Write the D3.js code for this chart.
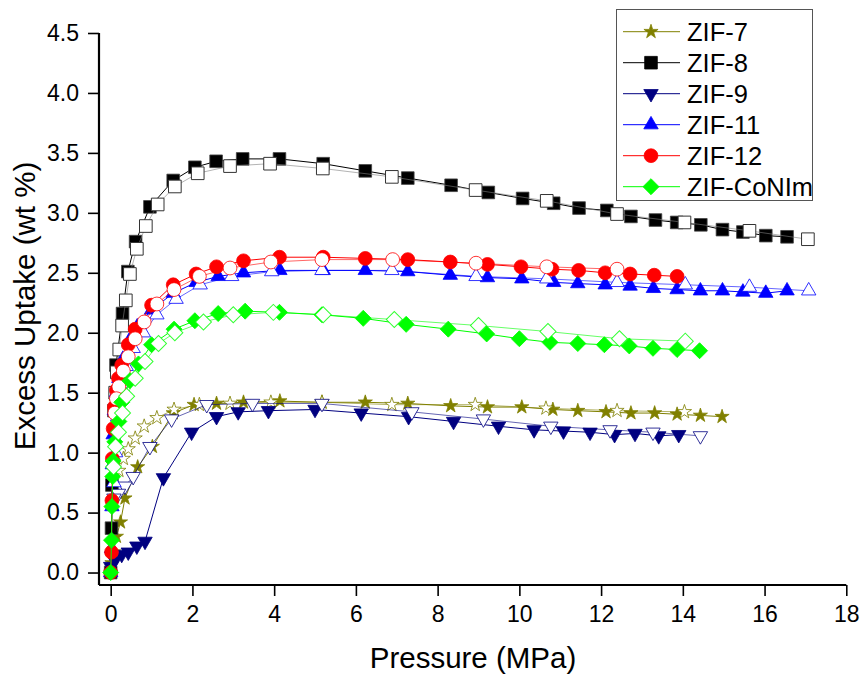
<!DOCTYPE html>
<html><head><meta charset="utf-8">
<script src="https://cdn.jsdelivr.net/npm/d3@7"></script>
<style>body{margin:0;background:#fff}svg{display:block}text{font-family:"Liberation Sans",Arial,sans-serif}</style>
</head><body><svg id="c" width="861" height="674"></svg>
<script>
// ---------- data ----------
const seriesNames = ["ZIF-7","ZIF-8","ZIF-9","ZIF-11","ZIF-12","ZIF-CoNIm"];
const seriesColors = ["#808000","#000000","#000080","#0000FF","#FF0000","#00FF00"];
const xTicks = [0,2,4,6,8,10,12,14,16,18];
const yTicks = [0,0.5,1,1.5,2,2.5,3,3.5,4,4.5];

const zif7Ads = [[0,0.0],[0.03,0.08],[0.07,0.17],[0.14,0.30],[0.24,0.42],[0.35,0.62],[0.66,0.88],[1.02,1.05],[1.53,1.33],[2.04,1.40],[2.59,1.41],[3.25,1.42],[4.14,1.43],[5.17,1.42],[6.23,1.42],[7.27,1.41],[8.32,1.39],[9.22,1.38],[10.06,1.38],[10.82,1.36],[11.43,1.35],[12.12,1.34],[12.73,1.33],[13.31,1.33],[13.86,1.32],[14.43,1.31],[14.96,1.30]];
const zif7Des = [[14.04,1.34],[12.39,1.35],[10.65,1.37],[8.92,1.40],[6.88,1.40],[5.17,1.42],[3.92,1.42],[2.92,1.41],[2.17,1.40],[1.55,1.36],[1.13,1.29],[0.82,1.22],[0.6,1.12],[0.43,1.03],[0.31,0.95],[0.2,0.85]];

const zif8Ads = [[0,0.0],[0.02,0.37],[0.03,0.73],[0.08,1.35],[0.13,1.73],[0.29,2.16],[0.42,2.51],[0.61,2.76],[0.96,3.05],[1.53,3.27],[2.06,3.38],[2.58,3.43],[3.23,3.45],[4.13,3.45],[5.2,3.41],[6.23,3.35],[7.27,3.29],[8.33,3.23],[9.24,3.17],[10.08,3.12],[10.84,3.08],[11.46,3.04],[12.14,3.02],[12.73,2.97],[13.33,2.94],[13.85,2.92],[14.44,2.90],[14.97,2.86],[15.47,2.84],[16.03,2.81],[16.55,2.80]];
const zif8Des = [[17.06,2.78],[15.63,2.85],[14.04,2.92],[12.39,2.99],[10.67,3.10],[8.93,3.19],[6.88,3.30],[5.19,3.37],[3.90,3.41],[2.92,3.39],[2.13,3.33],[1.57,3.22],[1.15,3.07],[0.86,2.89],[0.64,2.70],[0.47,2.49],[0.37,2.27],[0.28,2.06],[0.21,1.86],[0.15,1.67],[0.11,1.50]];

const zif9Ads = [[0,0.05],[0.1,0.10],[0.27,0.15],[0.43,0.17],[0.64,0.22],[0.84,0.26],[1.29,0.79],[1.98,1.17],[2.59,1.30],[3.12,1.34],[3.86,1.35],[5.0,1.36],[6.13,1.33],[7.29,1.30],[8.39,1.26],[9.49,1.22],[10.36,1.19],[11.08,1.18],[11.73,1.17],[12.33,1.15],[12.83,1.16],[13.41,1.14],[13.9,1.15]];
const zif9Des = [[14.43,1.14],[13.27,1.17],[12.22,1.19],[10.77,1.22],[9.12,1.28],[7.37,1.34],[5.17,1.41],[3.47,1.41],[2.35,1.40],[1.49,1.28],[0.96,1.05],[0.55,0.80],[0.35,0.72],[0.19,0.66],[0.08,0.62]];

const zif11Ads = [[0,0.0],[0.02,0.2],[0.03,0.55],[0.04,0.9],[0.06,1.15],[0.09,1.35],[0.14,1.5],[0.2,1.62],[0.3,1.78],[0.45,1.93],[0.65,2.05],[1.0,2.19],[1.53,2.33],[2.09,2.42],[2.63,2.47],[3.25,2.50],[4.14,2.52],[5.2,2.52],[6.23,2.52],[7.27,2.51],[8.31,2.48],[9.22,2.46],[10.06,2.45],[10.84,2.42],[11.43,2.41],[12.10,2.40],[12.71,2.39],[13.28,2.37],[13.86,2.36],[14.43,2.35],[14.97,2.35],[15.47,2.34],[16.03,2.33],[16.55,2.35]];
const zif11Des = [[17.08,2.35],[15.63,2.38],[14.06,2.40],[12.39,2.42],[10.67,2.45],[8.94,2.47],[6.88,2.52],[5.17,2.52],[3.94,2.51],[2.96,2.47],[2.19,2.40],[1.6,2.28],[1.13,2.15],[0.8,2.0],[0.55,1.87],[0.38,1.72],[0.25,1.55],[0.17,1.3],[0.12,1.0],[0.08,0.75]];

const zif12Ads = [[0,0.0],[0.02,0.17],[0.03,0.6],[0.04,0.95],[0.06,1.2],[0.09,1.38],[0.14,1.52],[0.19,1.62],[0.27,1.73],[0.43,1.90],[0.6,2.03],[1.0,2.23],[1.53,2.40],[2.09,2.49],[2.59,2.55],[3.25,2.60],[4.13,2.63],[5.2,2.63],[6.23,2.62],[7.27,2.61],[8.31,2.59],[9.22,2.57],[10.04,2.55],[10.80,2.53],[11.45,2.52],[12.10,2.50],[12.71,2.49],[13.30,2.48],[13.86,2.47]];
const zif12Des = [[12.39,2.53],[10.67,2.55],[8.94,2.58],[6.90,2.61],[5.17,2.61],[3.92,2.59],[2.92,2.54],[2.17,2.47],[1.55,2.36],[1.13,2.24],[0.82,2.09],[0.6,1.95],[0.43,1.80],[0.31,1.68],[0.2,1.55],[0.14,1.45],[0.1,1.33]];

const coNImAds = [[0,0.0],[0.02,0.27],[0.03,0.55],[0.05,0.80],[0.06,0.93],[0.1,1.09],[0.2,1.26],[0.27,1.42],[0.47,1.60],[0.68,1.74],[1.0,1.90],[1.55,2.03],[2.06,2.10],[2.63,2.16],[3.29,2.18],[4.13,2.17],[5.17,2.15],[6.18,2.12],[7.23,2.07],[8.26,2.03],[9.2,1.99],[10.0,1.95],[10.75,1.92],[11.43,1.91],[12.08,1.90],[12.69,1.89],[13.27,1.87],[13.86,1.86],[14.41,1.85]];
const coNImDes = [[14.06,1.93],[12.45,1.95],[10.7,2.01],[9.0,2.06],[6.94,2.11],[5.2,2.15],[3.98,2.17],[3.0,2.15],[2.27,2.09],[1.57,2.0],[1.17,1.91],[0.84,1.76],[0.6,1.62],[0.39,1.47],[0.29,1.33],[0.19,1.17],[0.12,1.05],[0.07,0.88]];

const adsData = [zif7Ads, zif8Ads, zif9Ads, zif11Ads, zif12Ads, coNImAds];
const desData = [zif7Des, zif8Des, zif9Des, zif11Des, zif12Des, coNImDes];

// ---------- drawing ----------
const svg = d3.select("#c");
const x = d3.scaleLinear().domain([-0.286, 18]).range([99, 846.3]);
const y = d3.scaleLinear().domain([-0.104, 4.5]).range([585, 33]);

const symbolDefs = [
  {type: d3.symbolStar, size: 62, rot: 0},
  {type: d3.symbolSquare, size: 160, rot: 0},
  {type: d3.symbolTriangle, size: 90, rot: 180},
  {type: d3.symbolTriangle, size: 90, rot: 0},
  {type: d3.symbolCircle, size: 150, rot: 0},
  {type: d3.symbolSquare, size: 128, rot: 45}
];
const desLineColors = ["#808000","#808080","#000080","#0000FF","#FF0000","#00FF00"];

const line = d3.line().x(d => x(d[0])).y(d => y(d[1]));
const plot = svg.append("g");

seriesNames.forEach((name, i) => {
  const col = seriesColors[i];
  const sd = symbolDefs[i];
  const sym = d3.symbol().type(sd.type).size(sd.size);
  // adsorption
  plot.append("path").datum(adsData[i]).attr("d", line)
    .attr("fill", "none").attr("stroke", col).attr("stroke-width", 1);
  plot.append("g").selectAll("path").data(adsData[i]).join("path")
    .attr("d", sym)
    .attr("transform", d => `translate(${x(d[0])},${y(d[1])}) rotate(${sd.rot})`)
    .attr("fill", col).attr("stroke", i === 1 ? "#444" : col).attr("stroke-width", 0.8);
  // desorption
  plot.append("path").datum(desData[i]).attr("d", line)
    .attr("fill", "none").attr("stroke", desLineColors[i]).attr("stroke-opacity", 0.6).attr("stroke-width", 1);
  plot.append("g").selectAll("path").data(desData[i]).join("path")
    .attr("d", sym)
    .attr("transform", d => `translate(${x(d[0])},${y(d[1])}) rotate(${sd.rot})`)
    .attr("fill", "#fff").attr("stroke", i === 1 ? "#333" : col).attr("stroke-opacity", i === 1 ? 1 : 0.8).attr("stroke-width", 1);
});

// axes
const xMinor = d3.range(1, 18, 2);
const yMinor = d3.range(0.25, 4.5, 0.5);
const fmtY = d3.format(".1f");

const gx = svg.append("g").attr("transform", "translate(0,585)");
gx.call(d3.axisBottom(x).tickValues(xMinor).tickSize(5).tickSizeOuter(0).tickFormat(""));
gx.call(d3.axisBottom(x).tickValues(xTicks).tickSize(11).tickSizeOuter(0).tickPadding(10));
gx.selectAll("path.domain").attr("d", `M${x(-0.286)},0H${x(18)}`).attr("stroke-width", 2.2);
gx.selectAll("line").attr("stroke-width", 1.6);
gx.selectAll("text").attr("font-size", 23).attr("fill", "#000").attr("font-family", "Liberation Sans, Arial, sans-serif");

const gy = svg.append("g").attr("transform", "translate(99,0)");
gy.call(d3.axisLeft(y).tickValues(yMinor).tickSize(5).tickSizeOuter(0).tickFormat(""));
gy.call(d3.axisLeft(y).tickValues(yTicks).tickSize(11).tickSizeOuter(0).tickPadding(9).tickFormat(fmtY));
gy.selectAll("path.domain").attr("d", `M0,${y(-0.104)}V${y(4.5)}`).attr("stroke-width", 2.2);
gy.selectAll("line").attr("stroke-width", 1.6);
gy.selectAll("text").attr("font-size", 23).attr("fill", "#000").attr("font-family", "Liberation Sans, Arial, sans-serif");

// titles
svg.append("text").attr("x", 473).attr("y", 668).attr("text-anchor", "middle")
  .attr("font-size", 29.5).text("Pressure (MPa)");
svg.append("text").attr("transform", "translate(35,306) rotate(-90)").attr("text-anchor", "middle")
  .attr("font-size", 29.5).text("Excess Uptake (wt %)");

// legend
const lg = svg.append("g");
lg.append("rect").attr("x", 616.5).attr("y", 9.5).attr("width", 196).attr("height", 191)
  .attr("fill", "#fff").attr("stroke", "#555").attr("stroke-width", 1);
seriesNames.forEach((name, i) => {
  const cy = 31.7 + i * 31;
  const sd = symbolDefs[i];
  lg.append("line").attr("x1", 623).attr("x2", 680).attr("y1", cy).attr("y2", cy)
    .attr("stroke", seriesColors[i]).attr("stroke-width", 1);
  lg.append("path").attr("d", d3.symbol().type(sd.type).size(sd.size)())
    .attr("transform", `translate(651,${cy}) rotate(${sd.rot})`)
    .attr("fill", seriesColors[i]).attr("stroke", seriesColors[i]).attr("stroke-width", 0.8);
  lg.append("text").attr("x", 687).attr("y", cy + 9).attr("font-size", 25.5).text(name);
});
</script></body></html>
